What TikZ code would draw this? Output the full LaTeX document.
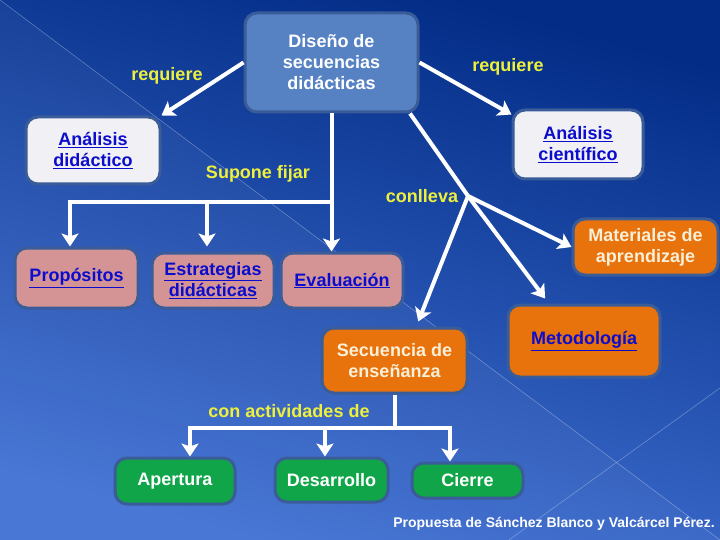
\documentclass[tikz,border=0pt]{standalone}
\usepackage{fontspec}
\setmainfont{Liberation Sans}
\usetikzlibrary{arrows.meta,calc}
\definecolor{bgdark}{HTML}{022C86}
\definecolor{bgmid}{HTML}{1E4CB0}
\definecolor{bglight}{HTML}{4272D4}
\definecolor{boxedge}{HTML}{3A5C98}
\definecolor{diseno}{HTML}{5682C3}
\definecolor{paper}{HTML}{F0F0F5}
\definecolor{pinkbox}{HTML}{D49496}
\definecolor{orangebox}{HTML}{E8720C}
\definecolor{greenbox}{HTML}{10A548}
\definecolor{lbl}{HTML}{EEF03C}
\definecolor{link}{HTML}{0C0CCC}
\definecolor{cream}{HTML}{FAF0D8}
\tikzset{
  every node/.style={font=\bfseries\fontsize{18}{21}\selectfont},
  cbox/.style={draw=boxedge, line width=3pt, rounded corners=12pt, align=center, inner sep=0pt},
  conn/.style={draw=white, line width=4pt},
  arr/.style={conn, -{Stealth[length=13pt,width=17pt,inset=3pt]}},
  lab/.style={text=lbl},
}
\begin{document}
\begin{tikzpicture}[x=1pt,y=-1pt]
\useasboundingbox (0,0) rectangle (720,540);
\shade[top color=bgdark, middle color=bgmid, bottom color=bglight, shading angle=-15] (0,0) rectangle (720,540);
\fill[white, opacity=0.04] (0,0) -- (720,540) -- (0,540) -- cycle;
\draw[white, opacity=0.3, line width=0.6pt] (0,0) -- (720,540);
\draw[white, opacity=0.3, line width=0.6pt] (509,540) -- (720,388);

% nodes
\node[cbox, fill=diseno, text=white, minimum width=173pt, minimum height=99pt] (dis) at (331.5,62.5) {Diseño de\\secuencias\\didácticas};
\node[cbox, fill=paper, text=link, minimum width=134pt, minimum height=67pt] (ad) at (93,150.5) {\underline{Análisis}\\\underline{didáctico}};
\node[cbox, fill=paper, text=link, minimum width=130pt, minimum height=69pt] (ac) at (578,144.5) {\underline{Análisis}\\\underline{científico}};
\node[cbox, fill=pinkbox, text=link, minimum width=123pt, minimum height=60pt] (prop) at (76.5,278) {\underline{Propósitos}};
\node[cbox, fill=pinkbox, text=link, minimum width=122pt, minimum height=55pt] (est) at (213,280.5) {\underline{Estrategias}\\\underline{didácticas}};
\node[cbox, fill=pinkbox, text=link, minimum width=122pt, minimum height=55pt] (eva) at (342,280.5) {\underline{Evaluación}};
\node[cbox, fill=orangebox, text=cream, minimum width=145pt, minimum height=56pt] (mat) at (645.5,247) {Materiales de\\aprendizaje};
\node[cbox, fill=orangebox, text=link, minimum width=152pt, minimum height=72pt] (met) at (584,341) {\underline{Metodología}};
\node[cbox, fill=orangebox, text=cream, minimum width=145pt, minimum height=65pt] (sec) at (394.5,360.5) {Secuencia de\\enseñanza};
\node[cbox, fill=greenbox, text=white, minimum width=120pt, minimum height=46pt] (ape) at (175,481) {Apertura};
\node[cbox, fill=greenbox, text=white, minimum width=113pt, minimum height=44pt] (des) at (331.5,480) {Desarrollo};
\node[cbox, fill=greenbox, text=white, minimum width=111pt, minimum height=35pt] (cie) at (467.5,480.5) {Cierre};

% branch points
\coordinate (br1) at (dis.south |- 0,202);
\coordinate (br2) at (468,196);
\coordinate (br3) at (sec.south |- 0,428);

% connectors
\draw[arr] (dis.west) -- (ad.north east);
\draw[arr] (dis.east) -- ($(ac.north west)+(0,6)$);
\draw[arr] (dis.south) -- (dis.south |- eva.north);
\draw[conn] (br1) -- ($(prop.north |- br1)+(-8.5,0)$);
\draw[arr] ($(prop.north |- br1)+(-6.5,0)$) -- ($(prop.north)+(-6.5,0)$);
\draw[arr] ($(est.north |- br1)+(-6,0)$) -- ($(est.north)+(-6,-5)$);
\draw[conn] (dis.-33) -- (br2);
\draw[arr] (br2) -- ($(sec.55)+(0,-5)$);
\draw[arr] (br2) -- (mat.west);
\draw[arr] (br2) -- ($(met.136)+(0,-5)$);
\draw[conn] (sec.south) -- (br3);
\draw[conn] ($(br3)+(2,0)$) -- ($(ape.north |- br3)+(13,0)$);
\draw[conn] (br3) -- ($(cie.north |- br3)+(-19.5,0)$);
\draw[arr] ($(ape.north |- br3)+(15,-2)$) -- ($(ape.north)+(15,0)$);
\draw[arr] ($(des.north |- br3)+(-6.5,0)$) -- ($(des.north)+(-6.5,0)$);
\draw[arr] ($(cie.north |- br3)+(-17.5,-2)$) -- ($(cie.north)+(-17.5,0)$);

% labels
\node[lab] (l1) at (167,76) {requiere};
\node[lab] (l2) at (508,67) {requiere};
\node[lab] (l3) at (258,174) {Supone fijar};
\node[lab] (l4) at (422,196) {conlleva};
\node[lab] (l5) at (289,411) {con actividades de};
\node[text=white, font=\bfseries\fontsize{14}{16}\selectfont] (foot) at (554,524) {Propuesta de Sánchez Blanco y Valcárcel Pérez.};
\end{tikzpicture}
\end{document}
